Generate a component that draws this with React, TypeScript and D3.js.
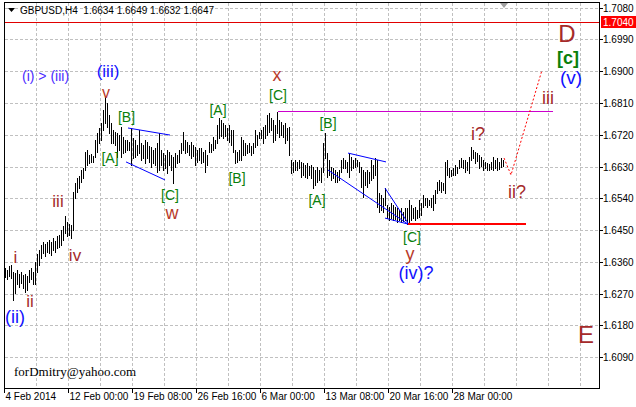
import React from "react";
import * as d3 from "d3";

const W = 636;
const H = 407;

// H4 bar highs / lows (GBPUSD, from 4 Feb 2014 16:00)
const highs = [
  1.6342, 1.6337, 1.6348, 1.6351, 1.6331, 1.6328, 1.6337, 1.6325, 1.6331, 1.6323,
  1.6325, 1.6320, 1.6337, 1.6342, 1.6331, 1.6359, 1.6382, 1.6393, 1.6408, 1.6416,
  1.6410, 1.6416, 1.6422, 1.6416, 1.6427, 1.6419, 1.6433, 1.6436, 1.6450, 1.6461,
  1.6490, 1.6473, 1.6467, 1.6464, 1.6558, 1.6583, 1.6597, 1.6603, 1.6620, 1.6626,
  1.6671, 1.6677, 1.6663, 1.6665, 1.6660, 1.6705, 1.6725, 1.6739, 1.6753, 1.6790,
  1.6827, 1.6810, 1.6776, 1.6753, 1.6733, 1.6728, 1.6725, 1.6719, 1.6742, 1.6713,
  1.6705, 1.6705, 1.6699, 1.6739, 1.6711, 1.6705, 1.6691, 1.6733, 1.6696, 1.6691,
  1.6705, 1.6699, 1.6688, 1.6685, 1.6677, 1.6682, 1.6696, 1.6725, 1.6677, 1.6668,
  1.6663, 1.6677, 1.6671, 1.6663, 1.6657, 1.6668, 1.6663, 1.6677, 1.6696, 1.6728,
  1.6705, 1.6699, 1.6691, 1.6699, 1.6691, 1.6685, 1.6677, 1.6682, 1.6682, 1.6671,
  1.6677, 1.6663, 1.6699, 1.6694, 1.6713, 1.6705, 1.6747, 1.6767, 1.6762, 1.6753,
  1.6747, 1.6739, 1.6747, 1.6733, 1.6733, 1.6677, 1.6671, 1.6677, 1.6713, 1.6705,
  1.6696, 1.6691, 1.6696, 1.6688, 1.6696, 1.6733, 1.6719, 1.6728, 1.6733, 1.6742,
  1.6747, 1.6776, 1.6781, 1.6767, 1.6762, 1.6747, 1.6784, 1.6762, 1.6756, 1.6747,
  1.6753, 1.6739, 1.6742, 1.6648, 1.6643, 1.6648, 1.6643, 1.6648, 1.6643, 1.6640,
  1.6634, 1.6640, 1.6631, 1.6634, 1.6629, 1.6620, 1.6629, 1.6620, 1.6626, 1.6696,
  1.6725, 1.6668, 1.6648, 1.6629, 1.6626, 1.6620, 1.6614, 1.6620, 1.6648, 1.6654,
  1.6648, 1.6643, 1.6668, 1.6657, 1.6648, 1.6654, 1.6648, 1.6643, 1.6629, 1.6620,
  1.6614, 1.6620, 1.6614, 1.6648, 1.6634, 1.6654, 1.6648, 1.6555, 1.6549, 1.6541,
  1.6569, 1.6521, 1.6515, 1.6527, 1.6521, 1.6515, 1.6512, 1.6507, 1.6512, 1.6501,
  1.6512, 1.6512, 1.6535, 1.6521, 1.6512, 1.6515, 1.6507, 1.6535, 1.6527, 1.6549,
  1.6541, 1.6541, 1.6535, 1.6541, 1.6549, 1.6563, 1.6586, 1.6592, 1.6586, 1.6583,
  1.6643, 1.6648, 1.6626, 1.6620, 1.6626, 1.6634, 1.6629, 1.6648, 1.6654, 1.6648,
  1.6648, 1.6643, 1.6657, 1.6685, 1.6677, 1.6671, 1.6668, 1.6663, 1.6657, 1.6648,
  1.6643, 1.6640, 1.6637, 1.6643, 1.6657, 1.6648, 1.6654, 1.6643, 1.6654, 1.6648,
];

const lows = [
  1.6317, 1.6311, 1.6320, 1.6314, 1.6252, 1.6272, 1.6297, 1.6289, 1.6300, 1.6286,
  1.6274, 1.6280, 1.6303, 1.6311, 1.6297, 1.6297, 1.6331, 1.6351, 1.6371, 1.6385,
  1.6376, 1.6388, 1.6385, 1.6379, 1.6393, 1.6388, 1.6399, 1.6402, 1.6408, 1.6422,
  1.6442, 1.6433, 1.6436, 1.6427, 1.6450, 1.6541, 1.6558, 1.6569, 1.6586, 1.6597,
  1.6620, 1.6634, 1.6640, 1.6643, 1.6643, 1.6657, 1.6671, 1.6696, 1.6705, 1.6733,
  1.6753, 1.6742, 1.6725, 1.6696, 1.6696, 1.6691, 1.6657, 1.6677, 1.6657, 1.6668,
  1.6671, 1.6677, 1.6677, 1.6634, 1.6654, 1.6657, 1.6663, 1.6668, 1.6648, 1.6654,
  1.6640, 1.6654, 1.6643, 1.6629, 1.6640, 1.6634, 1.6614, 1.6620, 1.6634, 1.6620,
  1.6626, 1.6612, 1.6634, 1.6620, 1.6583, 1.6629, 1.6640, 1.6643, 1.6668, 1.6677,
  1.6668, 1.6671, 1.6663, 1.6654, 1.6660, 1.6634, 1.6643, 1.6648, 1.6640, 1.6643,
  1.6614, 1.6634, 1.6671, 1.6671, 1.6677, 1.6682, 1.6696, 1.6711, 1.6716, 1.6711,
  1.6716, 1.6705, 1.6699, 1.6691, 1.6671, 1.6640, 1.6643, 1.6648, 1.6648, 1.6663,
  1.6663, 1.6668, 1.6671, 1.6663, 1.6668, 1.6685, 1.6691, 1.6711, 1.6711, 1.6696,
  1.6711, 1.6719, 1.6728, 1.6733, 1.6699, 1.6705, 1.6725, 1.6713, 1.6719, 1.6713,
  1.6696, 1.6705, 1.6663, 1.6612, 1.6614, 1.6620, 1.6620, 1.6626, 1.6600, 1.6606,
  1.6600, 1.6597, 1.6606, 1.6597, 1.6569, 1.6578, 1.6586, 1.6592, 1.6586, 1.6614,
  1.6654, 1.6600, 1.6606, 1.6592, 1.6597, 1.6586, 1.6586, 1.6592, 1.6614, 1.6626,
  1.6626, 1.6614, 1.6600, 1.6620, 1.6626, 1.6629, 1.6631, 1.6614, 1.6572, 1.6544,
  1.6578, 1.6572, 1.6583, 1.6592, 1.6597, 1.6606, 1.6515, 1.6501, 1.6507, 1.6501,
  1.6521, 1.6484, 1.6478, 1.6484, 1.6478, 1.6481, 1.6473, 1.6478, 1.6473, 1.6476,
  1.6478, 1.6467, 1.6473, 1.6478, 1.6484, 1.6478, 1.6484, 1.6487, 1.6493, 1.6515,
  1.6521, 1.6515, 1.6521, 1.6515, 1.6507, 1.6527, 1.6555, 1.6563, 1.6558, 1.6563,
  1.6555, 1.6606, 1.6600, 1.6603, 1.6606, 1.6606, 1.6612, 1.6626, 1.6629, 1.6626,
  1.6614, 1.6620, 1.6612, 1.6648, 1.6654, 1.6640, 1.6646, 1.6626, 1.6631, 1.6620,
  1.6626, 1.6620, 1.6620, 1.6623, 1.6620, 1.6626, 1.6620, 1.6623, 1.6629, 1.6631,
];

const priceTicks = [1.609, 1.618, 1.627, 1.636, 1.645, 1.654, 1.663, 1.672, 1.681, 1.69, 1.699, 1.708];
const timeTickBars = [0, 32, 64, 96, 128, 160, 192, 224];
const timeTickLabels = [
  "4 Feb 2014", "12 Feb 00:00", "19 Feb 08:00", "26 Feb 16:00",
  "6 Mar 00:00", "13 Mar 08:00", "20 Mar 16:00", "28 Mar 00:00",
];
const headerText = "GBPUSD,H4  1.6634 1.6649 1.6632 1.6647";
const alertPrice = 1.704;

// Wave labels anchored in (bar, price)
type Lbl = { t: string; b: number; p: number; c: string; s: number; w?: number; a?: string };
const BLUE = "#1010ff";
const GREEN = "#0a800a";
const BROWN = "#a52a2a";
const RED2 = "#b83a2a";
const waveLabels: Lbl[] = [
  { t: "(i) > (iii)", b: 8.25, p: 1.6872, c: "#4a2cff", s: 14, a: "start" },
  { t: "(iii)", b: 51.25, p: 1.6883, c: BLUE, s: 17 },
  { t: "v", b: 50.25, p: 1.6825, c: RED2, s: 16 },
  { t: "[B]", b: 60.5, p: 1.6756, c: GREEN, s: 14 },
  { t: "[A]", b: 52.25, p: 1.664, c: GREEN, s: 14 },
  { t: "[C]", b: 82.25, p: 1.6535, c: GREEN, s: 14 },
  { t: "w", b: 83.25, p: 1.6481, c: RED2, s: 18 },
  { t: "iii", b: 26.25, p: 1.6515, c: BROWN, s: 17 },
  { t: "iv", b: 34.75, p: 1.6362, c: BROWN, s: 17 },
  { t: "i", b: 5, p: 1.6357, c: BROWN, s: 17 },
  { t: "ii", b: 12.25, p: 1.6232, c: BROWN, s: 17 },
  { t: "(ii)", b: 4.75, p: 1.6187, c: BLUE, s: 18 },
  { t: "[A]", b: 106.25, p: 1.6776, c: GREEN, s: 14 },
  { t: "[B]", b: 115.75, p: 1.6583, c: GREEN, s: 14 },
  { t: "x", b: 135.75, p: 1.6872, c: RED2, s: 18 },
  { t: "[C]", b: 136.25, p: 1.6818, c: GREEN, s: 14 },
  { t: "[B]", b: 161.25, p: 1.6739, c: GREEN, s: 14 },
  { t: "[A]", b: 155.75, p: 1.6521, c: GREEN, s: 14 },
  { t: "[C]", b: 203.25, p: 1.6416, c: GREEN, s: 14 },
  { t: "y", b: 202.25, p: 1.6366, c: RED2, s: 18 },
  { t: "(iv)?", b: 205.25, p: 1.6311, c: BLUE, s: 18 },
  { t: "i?", b: 236.25, p: 1.6705, c: BROWN, s: 18 },
  { t: "ii?", b: 255.75, p: 1.6541, c: BROWN, s: 18 },
  { t: "iii", b: 271.25, p: 1.6807, c: BROWN, s: 18 },
  { t: "(v)", b: 282.75, p: 1.6864, c: BLUE, s: 19 },
  { t: "[c]", b: 281.25, p: 1.692, c: GREEN, s: 18, w: 700 },
  { t: "D", b: 280.75, p: 1.6982, c: BROWN, s: 24 },
  { t: "E", b: 290.25, p: 1.6131, c: BROWN, s: 24 },
];

// Trend lines [bar0, price0, bar1, price1]
const blueLines = [
  [61.25, 1.6739, 82.25, 1.6719],
  [60.25, 1.6643, 79.75, 1.6592],
  [171.25, 1.6668, 190.25, 1.6643],
  [161.25, 1.662, 201.25, 1.6467],
  [189.75, 1.6569, 201.25, 1.647],
  [189.75, 1.6484, 201.25, 1.6467],
];
const magentaLine = [136.25, 273.75, 1.6787];
const redLevel = [201.25, 260.25, 1.6467];
const forecastBars = [249.25, 252.75, 268.25];
const forecastPrices = [1.6654, 1.6606, 1.6903];

const FONT = "'Liberation Sans', Arial, sans-serif";

export default function App() {
  const left = 4.5, right = 599.5, top = 2.5, bottom = 388.5;
  const x = d3.scaleLinear().domain([0, 1]).range([5.5, 7.5]);
  const y = d3.scaleLinear().domain([1.609, 1.699]).range([357.3, 39.3]);
  const cy = (p: number) => Math.round(y(p)) + 0.5;

  const vGrid = d3.range(16, 300, 16).map((i) => Math.floor(x(i)) - 0.5).filter((v) => v < 598);
  const fLine = d3.line<number>().x((_, i) => x(forecastBars[i])).y((p) => y(p));

  return (
    <svg width={W} height={H} style={{ position: "absolute", left: 0, top: 0, background: "#fff" }}>
      <rect x={0} y={0} width={W} height={H} fill="#fff" />
      {/* grid */}
      <g stroke="#c0c0c0" strokeWidth={1} strokeDasharray="3,2" shapeRendering="crispEdges">
        {priceTicks.map((p) => (
          <line key={"h" + p} x1={left} x2={right} y1={cy(p)} y2={cy(p)} />
        ))}
        {vGrid.map((gx) => (
          <line key={"v" + gx} x1={gx} x2={gx} y1={top} y2={bottom} />
        ))}
      </g>
      {/* alert line */}
      <line x1={left} x2={right} y1={cy(alertPrice)} y2={cy(alertPrice)} stroke="#e00000" strokeWidth={1} shapeRendering="crispEdges" />
      {/* magenta level */}
      <line x1={x(magentaLine[0])} x2={x(magentaLine[1])} y1={cy(magentaLine[2])} y2={cy(magentaLine[2])} stroke="#cc00cc" strokeWidth={1} shapeRendering="crispEdges" />
      {/* red level */}
      <line x1={x(redLevel[0])} x2={x(redLevel[1])} y1={Math.round(y(redLevel[2]))} y2={Math.round(y(redLevel[2]))} stroke="#ff0000" strokeWidth={2} shapeRendering="crispEdges" />
      {/* bars */}
      <g fill="#000" shapeRendering="crispEdges">
        {highs.map((h, i) => {
          const yh = Math.round(y(h));
          const yl = Math.round(y(lows[i]));
          return <rect key={i} x={Math.floor(x(i))} y={yh} width={1} height={Math.max(1, yl - yh + 1)} />;
        })}
      </g>
      {/* blue trend lines */}
      <g stroke="#0000ff" strokeWidth={1}>
        {blueLines.map((l, i) => (
          <line key={i} x1={x(l[0])} y1={y(l[1])} x2={x(l[2])} y2={y(l[3])} />
        ))}
      </g>
      {/* forecast */}
      <path d={fLine(forecastPrices) || ""} fill="none" stroke="#ff0000" strokeWidth={1} strokeDasharray="2,2" />
      {/* wave labels */}
      {waveLabels.map((l, i) => (
        <text
          key={i}
          x={x(l.b)}
          y={y(l.p)}
          fill={l.c}
          fontSize={l.s}
          fontWeight={l.w || 400}
          fontFamily={FONT}
          textAnchor={l.a || "middle"}
        >
          {l.t}
        </text>
      ))}
      <text x={14} y={376} fontSize={13} fontFamily="'Liberation Serif', 'Times New Roman', serif" fill="#000">
        forDmitry@yahoo.com
      </text>
      {/* frame */}
      <rect x={left} y={top} width={right - left} height={bottom - top} fill="none" stroke="#000" strokeWidth={1} shapeRendering="crispEdges" />
      {/* header */}
      <path d="M8,8 L15,8 L11.5,12 Z" fill="#000" />
      <text x={20} y={14} fontSize={10} fontFamily={FONT} fill="#000" style={{ whiteSpace: "pre" }}>
        {headerText}
      </text>
      <path d="M500,3 L508,3 L504,8 Z" fill="#a0a0a0" />
      {/* right axis */}
      <g fontSize={10} fontFamily={FONT} fill="#000">
        {priceTicks.map((p) => (
          <g key={"t" + p}>
            <line x1={right} x2={right + 3} y1={cy(p)} y2={cy(p)} stroke="#000" shapeRendering="crispEdges" />
            <text x={603} y={cy(p) + 3.5}>{d3.format(".4f")(p)}</text>
          </g>
        ))}
      </g>
      <rect x={601} y={Math.round(y(alertPrice)) - 6} width={35} height={12} fill="#ff0000" />
      <text x={603} y={cy(alertPrice) + 3.5} fontSize={10} fontFamily={FONT} fill="#fff">
        {d3.format(".4f")(alertPrice)}
      </text>
      {/* bottom axis */}
      <g fontSize={10} fontFamily={FONT} fill="#000">
        {timeTickBars.map((b, i) => {
          const tx = i === 0 ? left : Math.floor(x(b)) - 0.5;
          return (
            <g key={"x" + b}>
              <line x1={tx} x2={tx} y1={bottom} y2={bottom + 4} stroke="#000" shapeRendering="crispEdges" />
              <text x={tx + 1} y={400}>{timeTickLabels[i]}</text>
            </g>
          );
        })}
      </g>
    </svg>
  );
}
